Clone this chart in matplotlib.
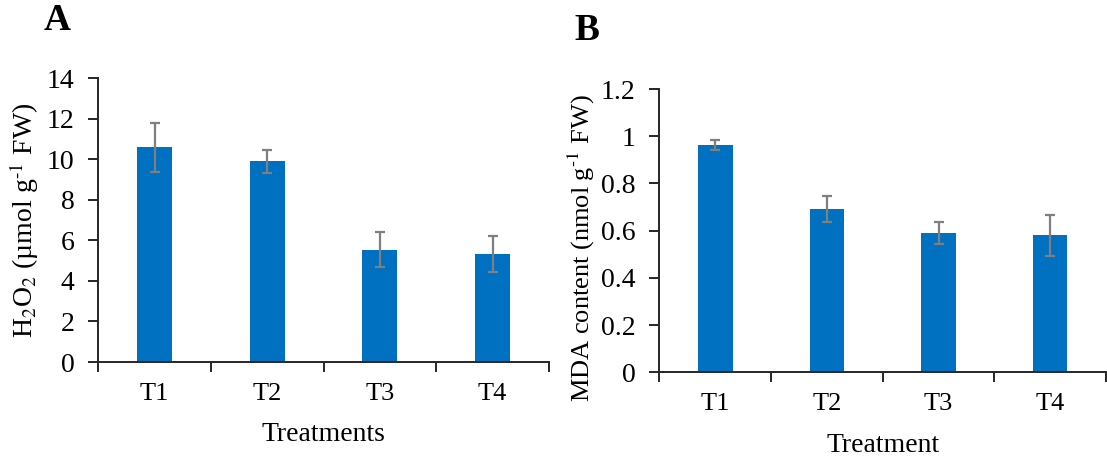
import numpy as np
import matplotlib.pyplot as plt

plt.rcParams['font.family'] = 'Liberation Serif'
plt.rcParams['mathtext.fontset'] = 'stix'

treatments = ['T1', 'T2', 'T3', 'T4']
h2o2 = [10.6, 9.9, 5.55, 5.32]
h2o2_err = [1.2, 0.55, 0.88, 0.88]
mda = [0.963, 0.692, 0.59, 0.58]
mda_err = [0.02, 0.056, 0.047, 0.087]

bar_color = '#0070C0'
err_color = '#7F7F7F'
axis_color = '#262626'

fig = plt.figure(figsize=(11.07, 4.59), dpi=100)
axA = fig.add_axes([0.0887, 0.2113, 0.4071, 0.618])
axB = fig.add_axes([0.5957, 0.1889, 0.4034, 0.6172])


def draw(ax, vals, errs, ymax, step, xlabel, ylabel, ylsize, ylx, yly):
    x = np.arange(len(vals))
    ax.bar(x, vals, width=0.31, color=bar_color, zorder=2)
    ax.errorbar(x, vals, yerr=errs, fmt='none', ecolor=err_color,
                elinewidth=1.6, capsize=3.9, capthick=1.6, zorder=3)
    ax.set_xlim(-0.5, len(vals) - 0.5)
    ax.set_ylim(0, ymax)
    ax.set_yticks(np.arange(0, ymax + step / 2, step))
    ax.set_xticks(x)
    ax.set_xticklabels(treatments)
    ax.set_xticks(np.arange(-0.5, len(vals), 1), minor=True)
    ax.tick_params(axis='x', which='major', length=0, pad=15, labelsize=19)
    ax.tick_params(axis='x', which='minor', length=7, width=1.4, color=axis_color)
    ax.tick_params(axis='y', length=7, width=1.4, color=axis_color, labelsize=20, pad=10)
    for s in ['top', 'right']:
        ax.spines[s].set_visible(False)
    for s in ['left', 'bottom']:
        ax.spines[s].set_color(axis_color)
        ax.spines[s].set_linewidth(1.4)
    ax.set_xlabel(xlabel, fontsize=20)
    ax.xaxis.label.set_va('center')
    ax.xaxis.set_label_coords(0.5, -0.257)
    ax.set_ylabel(ylabel, fontsize=ylsize)
    ax.yaxis.label.set_va('center')
    ax.yaxis.set_label_coords(ylx, yly)


draw(axA, h2o2, h2o2_err, 14, 2, 'Treatments',
     r'H$_2$O$_2$ (µmol g$^{\text{-}1}$ FW)', 20, -0.165, 0.5)
draw(axB, mda, mda_err, 1.2, 0.2, 'Treatment',
     r'MDA content (nmol g$^{\text{-}1}$ FW)', 19, -0.1755, 0.44)
axB.set_yticklabels(['0', '0.2', '0.4', '0.6', '0.8', '1', '1.2'])

fig.text(57 / 1107, 1 - 20.5 / 459, 'A', fontsize=27, fontweight='bold', ha='center', va='center')
fig.text(586.5 / 1107, 1 - 30.5 / 459, 'B', fontsize=27, fontweight='bold', ha='center', va='center')

fig.savefig('out.png', dpi=100)
